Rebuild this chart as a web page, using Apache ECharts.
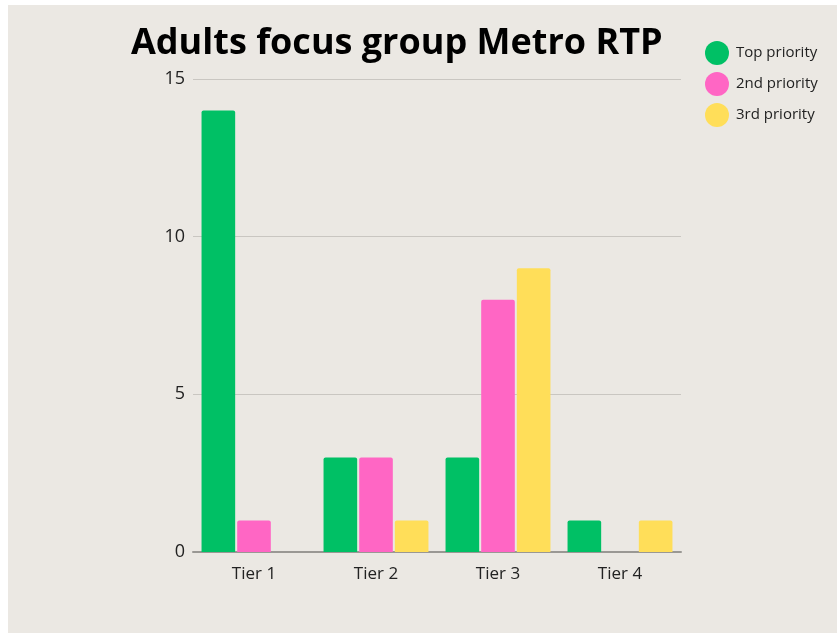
<!DOCTYPE html>
<html>
<head>
<meta charset="utf-8">
<script src="https://cdn.jsdelivr.net/npm/echarts@6/dist/echarts.min.js"></script>
<style>
  html, body { margin: 0; padding: 0; background: #ffffff; }
  #chart { position: absolute; left: 8px; top: 5px; width: 829px; height: 628px; }
</style>
</head>
<body>
<div id="chart"></div>
<script>
// data
const categories = ['Tier 1', 'Tier 2', 'Tier 3', 'Tier 4']
const topPriority = [14, 3, 3, 1]
const secondPriority = [1, 3, 8, 0]
const thirdPriority = [0, 1, 9, 1]
const yTicks = [0, 5, 10, 15]

const chart = echarts.init(document.getElementById('chart'))

const barStyle = (color) => ({ color: color, borderRadius: [2, 2, 0, 0] })

chart.setOption({
  backgroundColor: '#ebe8e3',
  textStyle: { fontFamily: 'Open Sans' },
  title: {
    text: 'Adults focus group Metro RTP',
    left: 118,
    top: 16,
    textStyle: { fontFamily: 'Open Sans', fontWeight: 700, fontSize: 36, color: '#000' }
  },
  legend: {
    orient: 'vertical',
    left: 692,
    top: 31,
    icon: 'circle',
    itemWidth: 24,
    itemHeight: 24,
    itemGap: 7,
    textStyle: { fontSize: 15, color: '#222', padding: [0, 0, 0, 2] }
  },
  grid: { left: 185, right: 156, top: 74, bottom: 81 },
  xAxis: {
    type: 'category',
    data: categories,
    axisTick: { show: false },
    axisLine: { lineStyle: { color: '#9a9894', width: 2 } },
    axisLabel: { fontSize: 17, color: '#222', margin: 14 }
  },
  yAxis: {
    type: 'value',
    min: yTicks[0],
    max: yTicks[yTicks.length - 1],
    interval: 5,
    axisLabel: { fontSize: 18, color: '#222', margin: 8 },
    splitLine: { lineStyle: { color: '#c9c6c1', width: 1 } }
  },
  series: [
    { name: 'Top priority', type: 'bar', data: topPriority, itemStyle: barStyle('#00c065'), barGap: '6%', barCategoryGap: '14%' },
    { name: '2nd priority', type: 'bar', data: secondPriority, itemStyle: barStyle('#ff66c4') },
    { name: '3rd priority', type: 'bar', data: thirdPriority, itemStyle: barStyle('#ffde59') }
  ]
})
</script>
</body>
</html>
